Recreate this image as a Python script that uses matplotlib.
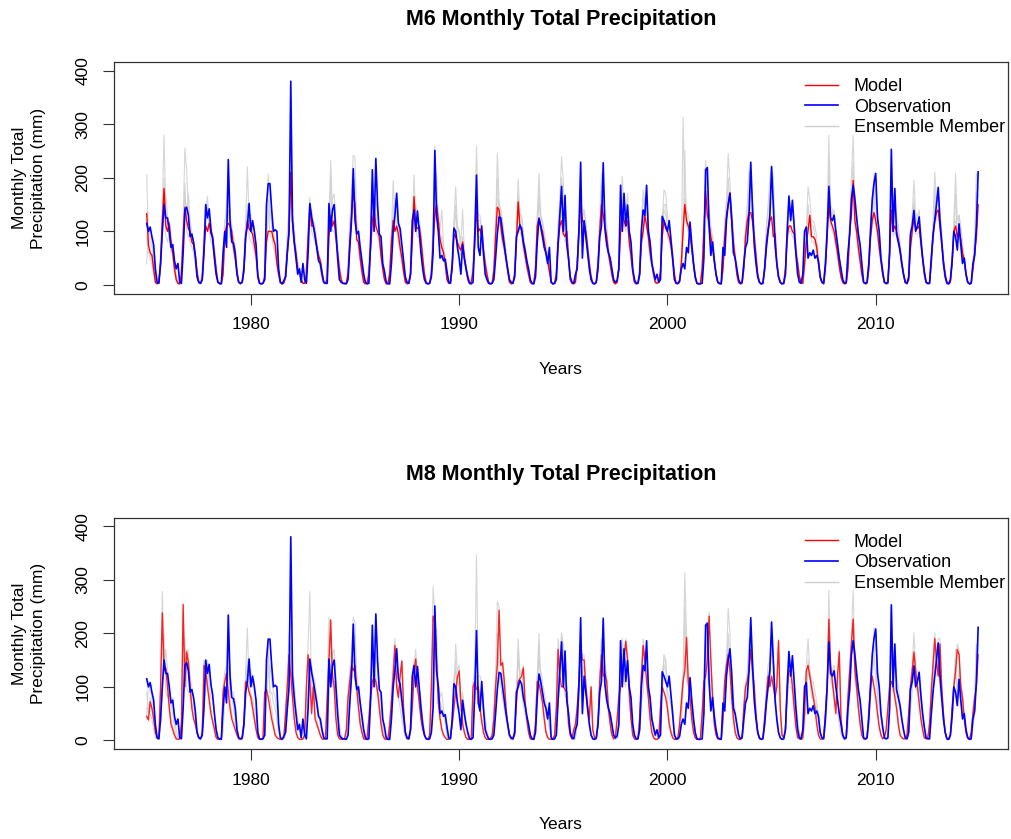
import numpy as np
import matplotlib
matplotlib.use("Agg")
import matplotlib.pyplot as plt
from matplotlib.lines import Line2D

plt.rcParams['font.family'] = ['Liberation Sans', 'DejaVu Sans']

# Monatswerte (Jan..Dez) je Jahr, 1975-2014
start_year = 1975
n_years = 40

obs = [
    [115, 100, 108, 90, 75, 30, 5, 3, 40, 100, 150, 125],
    [125, 100, 70, 75, 45, 30, 40, 5, 3, 60, 140, 145],
    [130, 90, 95, 80, 55, 15, 5, 3, 10, 60, 150, 125],
    [142, 104, 85, 50, 20, 5, 3, 2, 60, 100, 70, 234],
    [120, 80, 78, 60, 20, 5, 3, 5, 30, 90, 110, 152],
    [100, 120, 100, 75, 15, 3, 2, 3, 10, 150, 189, 189],
    [140, 100, 103, 100, 30, 5, 2, 8, 15, 60, 100, 380],
    [120, 80, 50, 20, 30, 5, 40, 10, 3, 60, 152, 127],
    [110, 90, 70, 45, 40, 20, 5, 3, 3, 152, 100, 140],
    [150, 100, 50, 10, 5, 3, 3, 2, 10, 70, 120, 217],
    [120, 95, 100, 70, 45, 20, 5, 2, 3, 80, 215, 100],
    [236, 150, 95, 90, 40, 25, 5, 2, 2, 40, 100, 130],
    [171, 115, 105, 75, 45, 15, 5, 3, 20, 120, 140, 100],
    [138, 100, 60, 30, 10, 3, 2, 3, 15, 60, 251, 130],
    [100, 50, 55, 45, 48, 25, 5, 3, 40, 106, 100, 70],
    [50, 20, 75, 50, 30, 15, 3, 2, 5, 90, 205, 70],
    [55, 110, 60, 20, 10, 3, 2, 3, 10, 50, 95, 127],
    [125, 100, 75, 50, 30, 10, 5, 3, 15, 90, 100, 112],
    [105, 80, 65, 45, 30, 10, 3, 2, 15, 80, 124, 110],
    [90, 70, 60, 40, 70, 5, 2, 3, 10, 75, 130, 184],
    [100, 167, 75, 50, 15, 5, 3, 20, 30, 100, 229, 50],
    [120, 90, 60, 30, 10, 3, 2, 5, 30, 90, 110, 228],
    [105, 75, 60, 50, 30, 10, 5, 8, 30, 186, 100, 171],
    [110, 149, 100, 80, 30, 10, 3, 3, 20, 100, 140, 130],
    [186, 100, 80, 40, 25, 10, 20, 5, 10, 128, 120, 110],
    [100, 120, 85, 50, 10, 3, 3, 8, 30, 40, 30, 70],
    [60, 117, 75, 40, 15, 3, 2, 2, 3, 50, 215, 219],
    [110, 55, 80, 45, 20, 5, 3, 2, 70, 55, 120, 150],
    [171, 125, 60, 50, 30, 10, 3, 5, 40, 70, 80, 130],
    [229, 145, 75, 40, 15, 5, 2, 3, 30, 70, 100, 130],
    [221, 150, 75, 40, 15, 5, 2, 3, 20, 100, 166, 120],
    [158, 110, 60, 20, 5, 3, 20, 100, 108, 50, 60, 55],
    [65, 50, 55, 45, 15, 5, 3, 40, 100, 184, 125, 120],
    [130, 100, 75, 50, 30, 10, 3, 5, 60, 95, 160, 186],
    [160, 125, 95, 75, 40, 5, 3, 5, 40, 100, 160, 190],
    [208, 125, 100, 50, 25, 5, 3, 5, 60, 253, 100, 180],
    [95, 80, 65, 40, 20, 5, 3, 15, 95, 110, 139, 100],
    [110, 127, 85, 50, 25, 5, 3, 3, 50, 90, 120, 150],
    [182, 120, 80, 40, 15, 3, 2, 10, 45, 100, 90, 65],
    [114, 75, 40, 50, 20, 5, 2, 3, 40, 55, 110, 211],
]

model_m6 = [
    [133, 75, 60, 55, 30, 5, 2, 5, 40, 120, 180, 110],
    [100, 115, 80, 60, 30, 10, 3, 2, 20, 90, 145, 120],
    [105, 100, 80, 75, 55, 25, 5, 3, 10, 70, 110, 100],
    [115, 95, 90, 60, 30, 5, 2, 3, 20, 95, 110, 115],
    [110, 100, 70, 50, 25, 5, 2, 5, 25, 90, 120, 105],
    [100, 95, 75, 55, 20, 3, 2, 3, 15, 80, 100, 100],
    [100, 85, 75, 40, 20, 5, 2, 3, 15, 60, 100, 210],
    [120, 80, 60, 30, 25, 10, 3, 3, 20, 90, 150, 110],
    [110, 95, 70, 55, 45, 25, 5, 3, 10, 90, 130, 110],
    [120, 90, 60, 30, 10, 3, 2, 3, 20, 80, 130, 173],
    [150, 85, 80, 50, 25, 5, 2, 3, 20, 70, 120, 140],
    [110, 100, 90, 55, 30, 10, 2, 3, 20, 80, 120, 100],
    [110, 95, 70, 50, 25, 5, 2, 3, 20, 80, 165, 110],
    [105, 110, 85, 50, 20, 5, 2, 3, 20, 80, 130, 150],
    [120, 85, 70, 60, 40, 10, 3, 5, 30, 95, 90, 80],
    [70, 65, 80, 50, 30, 10, 3, 5, 25, 80, 140, 100],
    [105, 90, 65, 40, 20, 5, 2, 3, 25, 90, 145, 140],
    [110, 85, 70, 50, 25, 5, 2, 3, 20, 80, 155, 110],
    [100, 75, 55, 35, 20, 5, 2, 3, 30, 110, 125, 110],
    [100, 80, 60, 45, 25, 5, 2, 3, 20, 80, 110, 120],
    [95, 90, 100, 50, 10, 3, 2, 5, 40, 100, 150, 120],
    [115, 100, 70, 40, 15, 3, 2, 5, 40, 100, 150, 130],
    [110, 90, 60, 40, 20, 5, 2, 5, 30, 100, 135, 120],
    [110, 120, 80, 55, 25, 5, 2, 3, 20, 80, 100, 130],
    [110, 90, 60, 40, 20, 5, 3, 5, 25, 90, 120, 105],
    [100, 90, 75, 50, 20, 3, 2, 5, 40, 100, 150, 120],
    [110, 95, 70, 40, 15, 3, 2, 3, 30, 100, 175, 130],
    [115, 90, 70, 45, 20, 5, 2, 3, 30, 90, 130, 150],
    [172, 120, 80, 50, 20, 5, 2, 3, 30, 90, 120, 135],
    [135, 120, 90, 55, 20, 5, 2, 3, 30, 80, 105, 120],
    [127, 90, 95, 40, 15, 5, 2, 3, 30, 90, 110, 110],
    [100, 95, 60, 40, 15, 5, 3, 40, 80, 100, 130, 90],
    [90, 85, 70, 40, 15, 5, 2, 30, 90, 150, 120, 110],
    [100, 80, 60, 35, 15, 5, 2, 3, 30, 100, 130, 195],
    [120, 100, 70, 45, 20, 5, 2, 3, 30, 90, 120, 135],
    [120, 100, 70, 45, 20, 5, 2, 3, 60, 140, 100, 110],
    [100, 85, 65, 40, 20, 5, 2, 10, 70, 100, 125, 105],
    [105, 110, 80, 50, 20, 5, 2, 3, 40, 95, 120, 135],
    [140, 110, 80, 45, 20, 5, 2, 5, 40, 100, 110, 90],
    [100, 85, 60, 45, 20, 5, 2, 3, 30, 60, 90, 150],
]

model_m8 = [
    [45, 38, 72, 60, 40, 15, 5, 3, 100, 238, 130, 135],
    [100, 60, 30, 20, 10, 3, 2, 3, 30, 254, 100, 165],
    [145, 100, 60, 40, 30, 15, 5, 3, 10, 140, 130, 100],
    [75, 50, 35, 20, 5, 2, 2, 3, 90, 110, 125, 90],
    [60, 40, 30, 20, 10, 3, 2, 3, 30, 110, 105, 90],
    [80, 60, 40, 20, 5, 2, 2, 5, 90, 95, 80, 60],
    [40, 25, 10, 5, 3, 2, 2, 5, 50, 100, 160, 120],
    [80, 40, 15, 5, 2, 2, 3, 10, 100, 160, 110, 50],
    [100, 40, 30, 20, 10, 3, 2, 5, 80, 150, 225, 120],
    [100, 40, 10, 3, 2, 2, 3, 20, 80, 110, 140, 130],
    [140, 100, 60, 30, 15, 3, 2, 5, 40, 80, 110, 118],
    [110, 90, 60, 30, 10, 3, 2, 3, 30, 70, 120, 177],
    [100, 80, 120, 148, 60, 15, 3, 3, 20, 60, 120, 152],
    [100, 70, 40, 20, 10, 3, 2, 10, 100, 232, 220, 150],
    [70, 40, 20, 10, 5, 2, 2, 5, 30, 60, 90, 118],
    [130, 70, 30, 15, 5, 2, 2, 5, 100, 110, 95, 100],
    [60, 35, 15, 5, 2, 2, 3, 10, 40, 100, 140, 243],
    [140, 145, 110, 60, 30, 10, 3, 3, 10, 70, 110, 115],
    [120, 135, 70, 40, 15, 3, 2, 3, 30, 110, 105, 90],
    [70, 40, 15, 5, 2, 2, 3, 10, 60, 170, 120, 100],
    [100, 95, 90, 30, 10, 3, 20, 30, 60, 110, 175, 150],
    [150, 100, 60, 40, 100, 20, 5, 3, 30, 110, 160, 120],
    [125, 110, 60, 30, 10, 3, 5, 40, 80, 100, 120, 150],
    [185, 150, 90, 40, 10, 3, 2, 3, 40, 120, 177, 150],
    [110, 80, 40, 15, 5, 2, 2, 5, 60, 100, 90, 80],
    [60, 30, 15, 5, 2, 2, 5, 30, 70, 110, 130, 192],
    [110, 80, 40, 15, 5, 2, 2, 5, 50, 110, 120, 150],
    [232, 150, 80, 30, 10, 3, 2, 3, 40, 110, 140, 160],
    [130, 80, 40, 15, 5, 2, 2, 5, 60, 100, 110, 130],
    [170, 130, 100, 50, 15, 3, 2, 5, 40, 80, 120, 100],
    [120, 100, 80, 100, 186, 60, 10, 5, 20, 90, 130, 130],
    [100, 60, 25, 5, 3, 2, 5, 50, 130, 140, 120, 100],
    [80, 60, 30, 10, 3, 2, 5, 50, 100, 226, 140, 110],
    [80, 50, 120, 165, 40, 10, 3, 5, 80, 130, 180, 226],
    [130, 100, 60, 30, 10, 3, 2, 5, 50, 100, 120, 100],
    [80, 50, 25, 10, 3, 5, 20, 60, 100, 110, 100, 80],
    [60, 30, 10, 5, 3, 3, 10, 50, 100, 130, 165, 130],
    [100, 70, 40, 20, 5, 3, 5, 30, 90, 140, 190, 150],
    [120, 180, 100, 50, 15, 3, 2, 10, 60, 100, 130, 170],
    [160, 100, 80, 40, 15, 5, 3, 15, 50, 80, 100, 160],
]

# Ensemble-Mitglieder (grau)
ens_a = [
    [205, 90, 80, 70, 40, 10, 3, 5, 60, 150, 279, 140],
    [110, 120, 90, 70, 40, 15, 5, 3, 30, 120, 256, 214],
    [140, 110, 90, 80, 60, 30, 8, 5, 20, 90, 140, 165],
    [120, 100, 95, 70, 35, 8, 3, 5, 30, 110, 150, 214],
    [130, 110, 80, 60, 30, 8, 3, 5, 40, 120, 220, 120],
    [110, 100, 80, 60, 25, 5, 3, 5, 30, 110, 207, 130],
    [120, 100, 80, 50, 25, 8, 3, 5, 20, 80, 150, 212],
    [130, 90, 70, 40, 30, 12, 5, 5, 30, 110, 164, 120],
    [120, 100, 80, 60, 50, 30, 8, 5, 20, 120, 232, 140],
    [140, 100, 70, 40, 15, 5, 3, 5, 30, 100, 180, 242],
    [238, 110, 90, 60, 30, 8, 3, 5, 30, 100, 190, 150],
    [130, 110, 100, 60, 35, 12, 3, 5, 30, 100, 195, 130],
    [140, 110, 80, 60, 30, 8, 3, 5, 30, 110, 205, 130],
    [120, 120, 100, 60, 25, 8, 3, 5, 30, 110, 260, 180],
    [140, 100, 140, 70, 50, 15, 5, 8, 40, 120, 183, 110],
    [100, 80, 140, 60, 40, 15, 5, 8, 35, 110, 260, 130],
    [130, 100, 80, 50, 25, 8, 3, 5, 35, 110, 245, 160],
    [130, 100, 90, 60, 30, 8, 3, 5, 30, 110, 198, 130],
    [120, 90, 70, 45, 25, 8, 3, 5, 40, 130, 208, 130],
    [120, 100, 80, 55, 30, 8, 3, 5, 30, 110, 160, 239],
    [195, 110, 120, 60, 15, 5, 3, 8, 50, 120, 158, 140],
    [140, 120, 80, 50, 20, 5, 3, 8, 50, 120, 208, 160],
    [130, 110, 70, 50, 25, 8, 3, 8, 40, 130, 202, 140],
    [130, 171, 100, 70, 30, 8, 3, 5, 30, 110, 177, 150],
    [177, 110, 80, 50, 25, 8, 5, 8, 35, 120, 177, 171],
    [130, 110, 90, 60, 25, 5, 3, 8, 50, 313, 170, 140],
    [130, 110, 90, 50, 20, 5, 3, 5, 40, 120, 232, 160],
    [140, 110, 90, 55, 25, 8, 3, 5, 40, 120, 160, 245],
    [190, 140, 100, 60, 25, 8, 3, 5, 40, 110, 150, 214],
    [190, 150, 110, 70, 25, 8, 3, 5, 40, 110, 150, 200],
    [220, 202, 110, 50, 20, 8, 3, 5, 40, 110, 140, 130],
    [130, 120, 80, 50, 20, 8, 5, 50, 100, 183, 160, 120],
    [120, 110, 90, 50, 20, 8, 3, 40, 110, 279, 150, 140],
    [130, 100, 80, 45, 20, 8, 3, 5, 40, 120, 200, 279],
    [150, 130, 90, 60, 25, 8, 3, 5, 40, 110, 150, 208],
    [150, 130, 90, 55, 25, 8, 3, 5, 80, 233, 130, 140],
    [130, 110, 80, 50, 25, 8, 3, 15, 90, 130, 195, 130],
    [130, 140, 100, 60, 25, 8, 3, 5, 50, 120, 211, 160],
    [170, 140, 100, 55, 25, 8, 3, 8, 50, 120, 208, 120],
    [130, 110, 80, 55, 25, 8, 3, 5, 40, 90, 208, 200],
]

ens_b = [
    [40, 110, 90, 80, 50, 20, 5, 3, 50, 90, 140, 170],
    [130, 90, 60, 80, 40, 20, 5, 3, 40, 110, 170, 130],
    [170, 120, 100, 70, 40, 15, 3, 3, 30, 100, 120, 140],
    [130, 110, 80, 50, 20, 5, 2, 3, 50, 120, 130, 160],
    [140, 90, 90, 70, 30, 5, 2, 5, 40, 110, 140, 120],
    [130, 100, 110, 60, 20, 5, 2, 5, 30, 90, 120, 140],
    [110, 90, 80, 60, 30, 5, 2, 5, 30, 100, 130, 160],
    [130, 110, 60, 40, 20, 5, 3, 5, 40, 100, 130, 140],
    [120, 110, 80, 50, 30, 10, 3, 3, 40, 110, 140, 160],
    [170, 120, 70, 30, 10, 3, 2, 5, 40, 120, 140, 150],
    [140, 120, 100, 60, 30, 8, 3, 5, 40, 100, 150, 130],
    [160, 130, 100, 70, 30, 10, 3, 3, 30, 90, 140, 160],
    [150, 120, 90, 60, 30, 8, 3, 5, 30, 100, 140, 150],
    [130, 100, 80, 40, 15, 5, 2, 5, 40, 110, 170, 140],
    [110, 80, 90, 60, 40, 10, 3, 5, 40, 120, 130, 110],
    [100, 60, 90, 60, 30, 10, 3, 5, 40, 110, 170, 120],
    [120, 110, 70, 40, 15, 5, 2, 5, 40, 120, 160, 150],
    [140, 120, 90, 60, 30, 8, 3, 5, 30, 100, 150, 130],
    [130, 100, 70, 45, 20, 5, 3, 5, 40, 120, 150, 130],
    [110, 90, 70, 50, 30, 5, 2, 5, 30, 110, 150, 170],
    [140, 150, 100, 60, 15, 5, 3, 10, 40, 120, 170, 120],
    [140, 110, 80, 40, 15, 3, 2, 8, 50, 120, 150, 170],
    [140, 110, 70, 50, 25, 5, 3, 8, 40, 150, 130, 160],
    [140, 140, 100, 70, 25, 5, 2, 5, 40, 120, 160, 140],
    [170, 110, 80, 50, 25, 8, 8, 5, 30, 130, 140, 130],
    [120, 120, 90, 60, 20, 3, 3, 8, 40, 120, 160, 130],
    [110, 120, 80, 50, 15, 3, 2, 3, 30, 130, 190, 170],
    [140, 100, 90, 50, 20, 5, 3, 5, 60, 100, 150, 170],
    [170, 140, 80, 55, 25, 8, 3, 5, 40, 100, 130, 150],
    [180, 150, 90, 50, 20, 5, 2, 5, 40, 100, 140, 150],
    [190, 150, 90, 50, 20, 5, 2, 5, 30, 120, 160, 140],
    [150, 120, 70, 40, 15, 5, 10, 70, 110, 120, 130, 110],
    [110, 90, 70, 50, 15, 5, 3, 40, 110, 180, 140, 130],
    [140, 110, 80, 50, 25, 8, 3, 5, 50, 120, 160, 180],
    [170, 130, 90, 60, 30, 5, 3, 5, 40, 120, 150, 170],
    [180, 140, 100, 55, 25, 5, 3, 5, 70, 180, 130, 150],
    [120, 100, 75, 45, 20, 5, 3, 15, 90, 120, 150, 120],
    [130, 130, 90, 55, 25, 5, 3, 5, 50, 110, 140, 160],
    [170, 130, 90, 45, 20, 5, 2, 8, 50, 110, 120, 100],
    [130, 100, 60, 50, 20, 5, 2, 5, 40, 80, 120, 170],
]

ens_c = [
    [90, 60, 50, 40, 20, 5, 2, 3, 30, 100, 200, 90],
    [80, 100, 70, 50, 25, 8, 2, 2, 15, 80, 190, 100],
    [90, 80, 70, 60, 40, 20, 3, 2, 8, 60, 100, 150],
    [100, 80, 75, 50, 25, 5, 2, 2, 15, 80, 100, 140],
    [90, 85, 60, 40, 20, 5, 2, 3, 20, 80, 150, 90],
    [80, 80, 60, 45, 15, 3, 2, 3, 10, 70, 160, 90],
    [90, 70, 60, 35, 15, 3, 2, 3, 10, 50, 90, 180],
    [100, 70, 50, 25, 20, 8, 2, 2, 15, 80, 130, 100],
    [90, 80, 60, 45, 35, 20, 3, 2, 8, 80, 200, 100],
    [100, 80, 50, 25, 8, 3, 2, 2, 15, 70, 120, 200],
    [190, 80, 70, 40, 20, 5, 2, 2, 15, 60, 110, 120],
    [100, 90, 80, 45, 25, 8, 2, 2, 15, 70, 110, 160],
    [100, 80, 60, 40, 20, 5, 2, 2, 15, 70, 150, 100],
    [90, 90, 70, 40, 15, 5, 2, 2, 15, 70, 120, 210],
    [100, 75, 60, 50, 30, 8, 2, 3, 25, 80, 150, 80],
    [60, 55, 70, 40, 25, 8, 2, 3, 20, 70, 120, 90],
    [90, 80, 55, 35, 15, 3, 2, 2, 20, 80, 200, 120],
    [100, 75, 60, 40, 20, 5, 2, 2, 15, 70, 170, 100],
    [90, 65, 50, 30, 15, 3, 2, 2, 25, 90, 180, 100],
    [90, 70, 50, 40, 20, 5, 2, 2, 15, 70, 100, 200],
    [160, 80, 90, 40, 8, 2, 2, 3, 30, 90, 130, 110],
    [100, 90, 60, 35, 10, 2, 2, 3, 30, 90, 190, 120],
    [100, 80, 50, 35, 15, 3, 2, 3, 25, 90, 170, 110],
    [100, 150, 70, 45, 20, 3, 2, 2, 15, 70, 90, 160],
    [150, 80, 50, 35, 15, 3, 2, 3, 20, 80, 150, 150],
    [90, 80, 65, 40, 15, 2, 2, 3, 30, 90, 250, 110],
    [100, 85, 60, 35, 10, 2, 2, 2, 25, 90, 200, 120],
    [100, 80, 60, 40, 15, 3, 2, 2, 25, 80, 120, 200],
    [150, 100, 70, 45, 15, 3, 2, 2, 25, 80, 110, 180],
    [160, 110, 80, 50, 15, 3, 2, 2, 25, 70, 100, 110],
    [180, 160, 85, 35, 12, 3, 2, 2, 25, 80, 100, 100],
    [90, 85, 50, 35, 12, 3, 2, 30, 70, 150, 120, 80],
    [80, 75, 60, 35, 12, 3, 2, 25, 80, 230, 110, 100],
    [90, 70, 50, 30, 12, 3, 2, 2, 25, 90, 170, 230],
    [110, 90, 60, 40, 15, 3, 2, 2, 25, 80, 110, 170],
    [110, 90, 60, 40, 15, 3, 2, 2, 50, 200, 90, 100],
    [90, 75, 55, 35, 15, 3, 2, 8, 60, 90, 160, 95],
    [95, 100, 70, 45, 15, 3, 2, 2, 35, 85, 180, 120],
    [130, 100, 70, 40, 15, 3, 2, 3, 35, 90, 170, 80],
    [90, 75, 50, 40, 15, 3, 2, 2, 25, 50, 170, 180],
]

ens_d = [
    [60, 50, 80, 60, 40, 15, 5, 3, 100, 278, 150, 140],
    [110, 70, 40, 25, 10, 3, 2, 3, 40, 240, 130, 170],
    [150, 110, 70, 45, 30, 15, 5, 3, 20, 150, 140, 110],
    [90, 60, 40, 25, 8, 2, 2, 3, 100, 130, 140, 200],
    [80, 50, 40, 25, 10, 3, 2, 3, 40, 130, 210, 100],
    [90, 70, 50, 25, 8, 2, 2, 5, 100, 120, 190, 80],
    [60, 35, 15, 8, 3, 2, 2, 5, 60, 120, 200, 150],
    [90, 50, 20, 8, 3, 2, 3, 10, 110, 180, 278, 70],
    [110, 50, 40, 25, 10, 3, 2, 5, 90, 230, 210, 130],
    [110, 50, 15, 5, 2, 2, 3, 20, 90, 130, 160, 230],
    [220, 110, 70, 35, 15, 3, 2, 5, 50, 90, 130, 130],
    [120, 100, 70, 35, 12, 3, 2, 3, 40, 80, 140, 190],
    [110, 90, 130, 150, 60, 15, 3, 3, 30, 70, 140, 170],
    [110, 80, 50, 25, 10, 3, 2, 10, 110, 287, 230, 160],
    [80, 50, 25, 12, 5, 2, 2, 5, 40, 80, 180, 130],
    [140, 80, 40, 20, 5, 2, 2, 5, 110, 130, 346, 110],
    [70, 45, 20, 8, 2, 2, 3, 10, 50, 120, 260, 250],
    [150, 150, 120, 70, 30, 10, 3, 3, 20, 80, 190, 120],
    [130, 140, 80, 45, 15, 3, 2, 3, 40, 120, 200, 100],
    [80, 50, 20, 8, 2, 2, 3, 10, 70, 190, 130, 200],
    [180, 100, 100, 40, 10, 3, 20, 30, 70, 120, 180, 160],
    [160, 110, 70, 45, 100, 20, 5, 3, 40, 120, 190, 130],
    [140, 120, 70, 35, 10, 3, 5, 40, 90, 110, 190, 160],
    [190, 160, 100, 45, 10, 3, 2, 3, 50, 130, 190, 160],
    [160, 90, 50, 20, 5, 2, 2, 5, 70, 110, 160, 150],
    [70, 40, 20, 8, 2, 2, 5, 30, 80, 120, 313, 200],
    [120, 90, 50, 20, 5, 2, 2, 5, 60, 120, 200, 160],
    [240, 160, 90, 35, 10, 3, 2, 3, 50, 120, 150, 247],
    [200, 90, 50, 20, 5, 2, 2, 5, 70, 110, 120, 190],
    [190, 140, 110, 55, 15, 3, 2, 5, 50, 90, 130, 110],
    [200, 160, 90, 110, 190, 60, 10, 5, 30, 100, 140, 140],
    [110, 70, 30, 8, 3, 2, 5, 60, 140, 190, 130, 110],
    [90, 70, 40, 15, 3, 2, 5, 60, 110, 280, 150, 120],
    [90, 60, 130, 170, 40, 10, 3, 5, 90, 140, 200, 280],
    [140, 110, 70, 35, 10, 3, 2, 5, 60, 110, 140, 210],
    [200, 60, 30, 12, 3, 5, 20, 70, 110, 250, 110, 90],
    [70, 40, 15, 8, 3, 3, 10, 60, 110, 140, 200, 140],
    [110, 80, 50, 25, 5, 3, 5, 40, 100, 150, 200, 160],
    [190, 190, 110, 55, 15, 3, 2, 10, 70, 110, 140, 180],
    [170, 110, 90, 45, 15, 5, 3, 15, 60, 90, 180, 170],
]

x_ticks = [1980, 1990, 2000, 2010]
y_ticks = [0, 100, 200, 300, 400]

# Zeitachse: Jahr + Monat/12
t = start_year + np.arange(n_years * 12) / 12.0

W, H = 1011, 839
fig = plt.figure(figsize=(W / 100, H / 100), dpi=100)

GRAY = '#cfcfcf'


def panel(top_px, title, model, members, model_alpha=1.0):
    bottom_px = top_px + 231.5
    ax = fig.add_axes([114 / W, 1 - bottom_px / H, 894 / W, 231.5 / H])
    for m in members:
        ax.plot(t, np.ravel(m), color=GRAY, lw=0.8, alpha=0.85)
    ax.plot(t, np.ravel(model), color='red', lw=1.0, alpha=model_alpha)
    ax.plot(t, np.ravel(obs), color='blue', lw=1.2)
    ax.set_xlim(1973.43, 2016.35)
    ax.set_ylim(-16, 416)
    ax.set_xticks(x_ticks)
    ax.set_yticks(y_ticks)
    ax.tick_params(axis='both', labelsize=12.5, length=8, width=0.8, color='#333333')
    ax.tick_params(axis='x', pad=9)
    ax.tick_params(axis='y', pad=9, labelrotation=90)
    for lab in ax.get_yticklabels():
        lab.set_verticalalignment('center')
    for s in ax.spines.values():
        s.set_color('#333333')
        s.set_linewidth(0.9)
    # Legende ohne Rahmen
    handles = [Line2D([], [], color='red', lw=1.0),
               Line2D([], [], color='blue', lw=1.2),
               Line2D([], [], color=GRAY, lw=1.0)]
    ax.legend(handles, ['Model', 'Observation', 'Ensemble Member'],
              loc='upper left', bbox_to_anchor=(0.773, 0.93), frameon=False,
              fontsize=13, handlelength=1.8, handletextpad=0.9,
              labelspacing=0.2, borderpad=0, borderaxespad=0)
    fig.text(561 / W, 1 - (top_px - 43) / H, title, ha='center', va='center',
             fontsize=15.5, fontweight='bold')
    fig.text(29 / W, 1 - (top_px + 116) / H, 'Monthly Total\nPrecipitation (mm)',
             rotation=90, ha='center', va='center', ma='center', fontsize=12.5,
             linespacing=1.3)
    fig.text(561 / W, 1 - (top_px + 307) / H, 'Years', ha='center', va='center',
             fontsize=12.5)
    return ax


panel(62, 'M6 Monthly Total Precipitation', model_m6, [ens_a, ens_b, ens_c])
panel(517.5, 'M8 Monthly Total Precipitation', model_m8, [ens_b, ens_c, ens_d],
      model_alpha=0.85)

fig.savefig('out.png', dpi=100)
